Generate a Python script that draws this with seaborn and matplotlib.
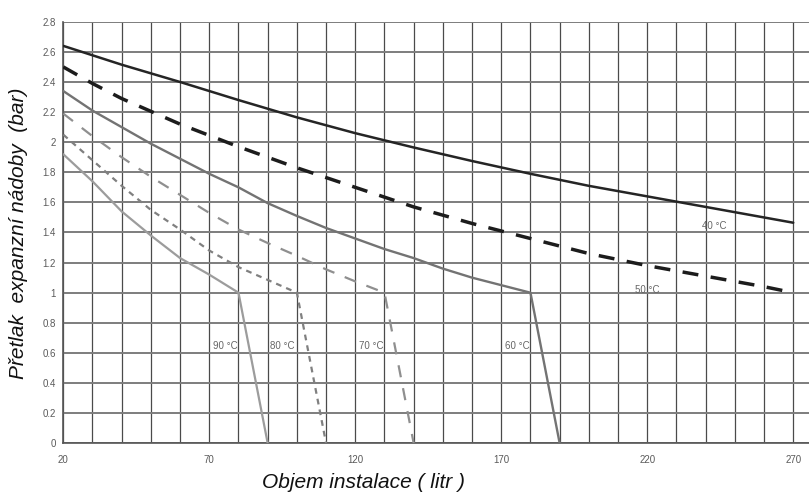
import matplotlib
matplotlib.use("Agg")
import matplotlib.pyplot as plt
from matplotlib.ticker import MultipleLocator, FixedLocator, FuncFormatter
import seaborn as sns
import pandas as pd

# ---- data ----
x_40 = [20, 40, 60, 80, 100, 120, 140, 160, 180, 200, 220, 240, 260, 270]
y_40 = [2.64, 2.515, 2.40, 2.28, 2.165, 2.06, 1.965, 1.875, 1.79, 1.71, 1.64, 1.57, 1.50, 1.465]

x_50 = [20, 30, 40, 60, 80, 100, 120, 140, 160, 180, 200, 220, 240, 260, 270]
y_50 = [2.50, 2.39, 2.29, 2.12, 1.97, 1.83, 1.70, 1.57, 1.46, 1.36, 1.26, 1.18, 1.11, 1.04, 1.00]

x_60 = [20, 30, 40, 50, 60, 70, 80, 90, 100, 110, 120, 130, 140, 150, 160, 170, 180, 190]
y_60 = [2.34, 2.21, 2.10, 1.99, 1.89, 1.79, 1.70, 1.595, 1.51, 1.43, 1.36, 1.29, 1.23, 1.16, 1.10, 1.05, 1.00, 0.0]

x_70 = [20, 30, 40, 50, 60, 70, 80, 90, 100, 110, 120, 130, 140]
y_70 = [2.19, 2.04, 1.90, 1.77, 1.65, 1.53, 1.42, 1.33, 1.245, 1.155, 1.075, 1.00, 0.0]

x_80 = [20, 30, 40, 50, 60, 70, 80, 90, 100, 110]
y_80 = [2.05, 1.88, 1.71, 1.55, 1.42, 1.28, 1.17, 1.085, 1.00, 0.0]

x_90 = [20, 30, 40, 50, 60, 70, 80, 90]
y_90 = [1.92, 1.74, 1.54, 1.38, 1.23, 1.12, 1.00, 0.0]

curve_labels = ["40 °C", "50 °C", "60 °C", "70 °C", "80 °C", "90 °C"]
label_x = [243, 220, 175.5, 125.5, 95, 75.5]
label_y = [1.44, 1.02, 0.645, 0.645, 0.645, 0.645]

x_ticks = [20, 70, 120, 170, 220, 270]
y_ticks = [0, 0.2, 0.4, 0.6, 0.8, 1.0, 1.2, 1.4, 1.6, 1.8, 2.0, 2.2, 2.4, 2.6, 2.8]

x_title = "Objem instalace ( litr )"
y_title = "Přetlak  expanzní nádoby  (bar)"

# ---- styling ----
sns.set_style("white")
plt.rcParams["font.family"] = ["Liberation Sans", "DejaVu Sans"]

W, H = 809, 494
fig = plt.figure(figsize=(W / 100, H / 100), dpi=100)
left_px, right_px, top_px, bottom_px = 63.3, 809, 21.8, 443.2
ax = fig.add_axes([left_px / W, 1 - bottom_px / H, (right_px - left_px) / W, (bottom_px - top_px) / H])

series = [
    (x_40, y_40, dict(color="#252525", linewidth=1.8, linestyle="-")),
    (x_50, y_50, dict(color="#1c1c1c", linewidth=2.5, linestyle=(0, (4.6, 3.6)))),
    (x_60, y_60, dict(color="#737373", linewidth=1.7, linestyle="-")),
    (x_70, y_70, dict(color="#8f8f8f", linewidth=1.6, linestyle=(0, (5.5, 5.0)))),
    (x_80, y_80, dict(color="#808080", linewidth=1.6, linestyle=(0, (2.6, 2.3)))),
    (x_90, y_90, dict(color="#9c9c9c", linewidth=1.6, linestyle="-")),
]
for xs, ys, kw in series:
    df = pd.DataFrame({"x": xs, "y": ys})
    sns.lineplot(data=df, x="x", y="y", ax=ax, estimator=None, sort=False, zorder=3, **kw)

for t, lx, ly in zip(curve_labels, label_x, label_y):
    ax.text(lx, ly, t, fontsize=7, color="#666666", ha="center", va="center", zorder=4)

ax.set_xlim(20, 275.4)
ax.set_ylim(0, 2.8)

ax.xaxis.set_major_locator(FixedLocator(x_ticks))
ax.xaxis.set_minor_locator(MultipleLocator(10))
ax.yaxis.set_major_locator(FixedLocator(y_ticks))
ax.yaxis.set_minor_locator(MultipleLocator(0.1))
ax.yaxis.set_major_formatter(FuncFormatter(lambda v, p: f"{v:g}"))

ax.grid(False)
ax.grid(which="minor", axis="x", color="#4a4a4a", linewidth=0.9, zorder=1)
ax.grid(which="major", axis="x", color="#4a4a4a", linewidth=0.9, zorder=1)
ax.grid(which="major", axis="y", color="#7d7d7d", linewidth=1.4, zorder=1)
ax.set_axisbelow(True)

for s in ["top", "right"]:
    ax.spines[s].set_visible(False)
for s in ["left", "bottom"]:
    ax.spines[s].set_color("#555555")
    ax.spines[s].set_linewidth(1.2)

ax.tick_params(axis="both", which="major", direction="out", length=2.5, width=0.9,
               color="#555555", labelsize=7, labelcolor="#5a5a5a")
ax.tick_params(axis="x", which="major", pad=6)
ax.tick_params(axis="y", which="major", pad=3)
ax.tick_params(axis="y", which="minor", direction="out", length=2, width=1.0, color="#555555")
ax.tick_params(axis="x", which="minor", length=0)

ax.set_xlabel(x_title, fontsize=15, style="italic", color="#111111")
ax.set_ylabel(y_title, fontsize=15, style="italic", color="#111111")
ax.xaxis.set_label_coords((364 - left_px) / (right_px - left_px), (bottom_px - 473) / (bottom_px - top_px))
ax.yaxis.set_label_coords((28 - left_px) / (right_px - left_px), 0.499)

fig.savefig("out.png", dpi=100, facecolor="white")
